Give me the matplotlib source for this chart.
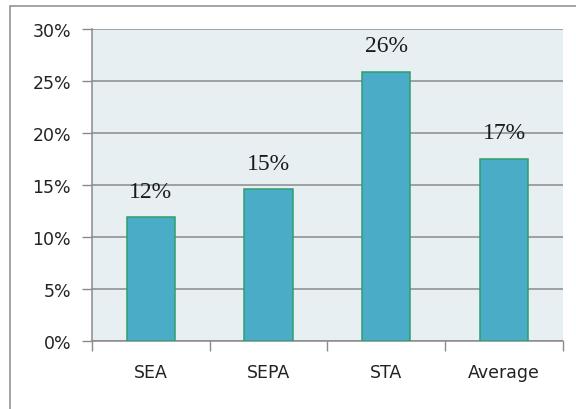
import numpy as np
import matplotlib
matplotlib.use('Agg')
import matplotlib.pyplot as plt
from matplotlib.patches import Rectangle
from matplotlib.ticker import PercentFormatter

categories = ['SEA', 'SEPA', 'STA', 'Average']
values = [0.119, 0.146, 0.259, 0.175]
bar_labels = ['12%', '15%', '26%', '17%']
yticks = [0, 0.05, 0.10, 0.15, 0.20, 0.25, 0.30]

fig = plt.figure(figsize=(5.76, 4.10), dpi=100)
ax = fig.add_axes([0.1597, 0.1659, 0.8177, 0.7609])

# outer chart frame (runs off the right and bottom edges)
fig.patches.append(Rectangle((10/576, -0.2), 1.2, 1 - 7/410 + 0.2,
                             transform=fig.transFigure, fill=False,
                             edgecolor='#8a8a8a', lw=1.1))

ax.set_facecolor('#e8eff3')
x = np.arange(len(categories))
ax.bar(x, values, width=0.41, color='#4aacc6', edgecolor='#2e9e6a', lw=1.1, zorder=3)

for xi, v, lab in zip(x, values, bar_labels):
    ax.text(xi, v + 0.015, lab, ha='center', va='bottom',
            family='Liberation Serif', fontsize=17, color='#1a1a1a')

ax.set_xlim(-0.5, 3.5)
ax.set_ylim(0, 0.30)
ax.set_yticks(yticks)
ax.yaxis.set_major_formatter(PercentFormatter(1.0, decimals=0))
ax.grid(axis='y', color='#8a8a8a', lw=1.1, zorder=1)

ax.set_xticks(x)
ax.set_xticklabels(categories)
ax.set_xticks(np.arange(-0.5, 4.0, 1.0), minor=True)
ax.tick_params(axis='x', which='major', length=0, pad=16, labelsize=12.5, labelcolor='#222222')
ax.tick_params(axis='x', which='minor', length=7, width=1, color='#8a8a8a', direction='out')
ax.tick_params(axis='y', length=7, width=1, color='#8a8a8a', pad=8, labelsize=12.5, labelcolor='#222222')

for s in ['top', 'right']:
    ax.spines[s].set_visible(False)
for s in ['left', 'bottom']:
    ax.spines[s].set_color('#8a8a8a')
    ax.spines[s].set_linewidth(1.1)

fig.savefig('out.png', dpi=100)
